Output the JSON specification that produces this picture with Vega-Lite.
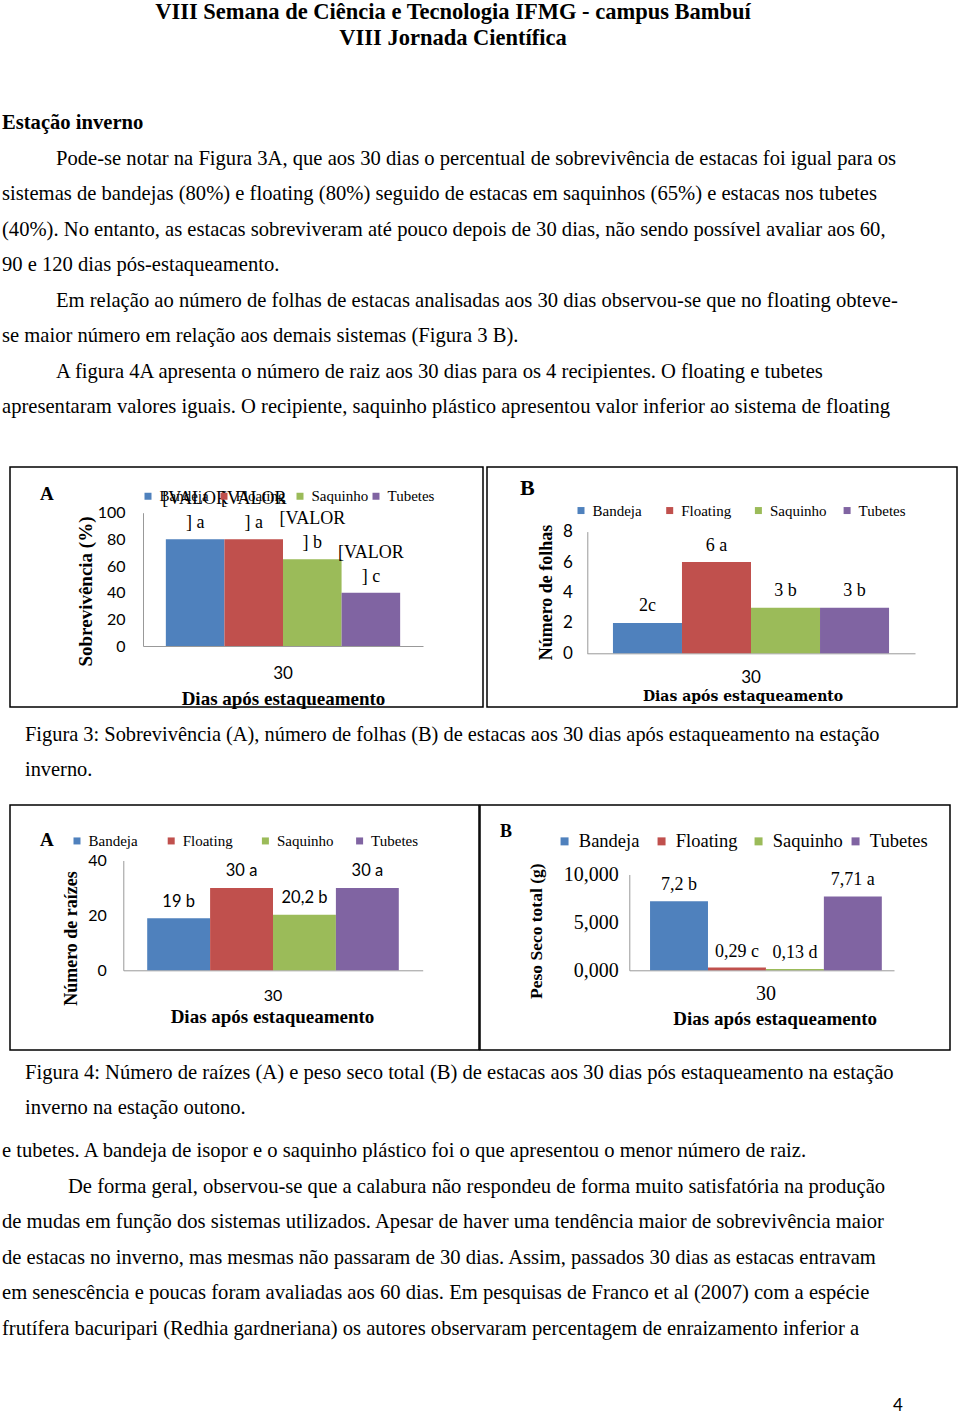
{
  "$schema": "https://vega.github.io/schema/vega-lite/v6.json",
  "padding": 0,
  "background": "white",
  "spacing": 0,
  "bounds": "full",
  "config": {
    "view": {"stroke": null},
    "axis": {"labelFlush": false, "labelOverlap": false, "labelBound": false, "grid": false, "ticks": false, "tickSize": 0, "domainColor": "#999999", "domainWidth": 1, "labelColor": "#000", "titleColor": "#000", "labelAngle": 0},
    "legend": {"padding": 0, "symbolStrokeWidth": 0, "labelColor": "#000", "symbolType": "square", "title": null, "orient": "none", "direction": "horizontal", "columns": 4, "gridAlign": "all", "labelLimit": 0},
    "title": {"color": "#000"}
  },
  "vconcat": [
    {
      "width": 906, "height": 60,
      "data": {"values": [
        {"linha": 0, "tipo": "centro", "texto": "VIII Semana de Ciência e Tecnologia IFMG - campus Bambuí"},
        {"linha": 1, "tipo": "centro", "texto": "VIII Jornada Científica"}
      ]},
      "mark": {"type": "text", "font": "Liberation Serif", "fontSize": 22.5, "fontWeight": "bold", "align": "center", "baseline": "middle", "color": "#000"},
      "encoding": {
        "x": {"field": "tipo", "type": "nominal", "scale": {"type": "point", "domain": ["centro"], "range": [453, 453]}, "axis": null},
        "y": {"field": "linha", "type": "ordinal", "scale": {"type": "point", "domain": [0, 1], "range": [12, 38], "padding": 0}, "axis": null},
        "text": {"field": "texto"}
      }
    },
    {
      "width": 906, "height": 406,
      "data": {"values": [
        {"linha": 0, "tipo": "normal", "peso": "negrito", "texto": "Estação inverno"},
        {"linha": 1, "tipo": "recuo", "peso": "normal", "texto": "Pode-se notar na Figura 3A, que aos 30 dias o percentual de sobrevivência de estacas foi igual para os"},
        {"linha": 2, "tipo": "normal", "peso": "normal", "texto": "sistemas de bandejas (80%) e floating (80%) seguido de estacas em saquinhos (65%) e estacas nos tubetes"},
        {"linha": 3, "tipo": "normal", "peso": "normal", "texto": "(40%). No entanto, as estacas sobreviveram até pouco depois de 30 dias, não sendo possível avaliar aos 60,"},
        {"linha": 4, "tipo": "normal", "peso": "normal", "texto": "90 e 120 dias pós-estaqueamento."},
        {"linha": 5, "tipo": "recuo", "peso": "normal", "texto": "Em relação ao número de folhas de estacas analisadas aos 30 dias observou-se que no floating  obteve-"},
        {"linha": 6, "tipo": "normal", "peso": "normal", "texto": "se maior número em relação aos demais sistemas (Figura 3 B)."},
        {"linha": 7, "tipo": "recuo", "peso": "normal", "texto": "A figura 4A apresenta o número de raiz aos 30 dias para os 4 recipientes. O floating e tubetes"},
        {"linha": 8, "tipo": "normal", "peso": "normal", "texto": "apresentaram valores iguais. O recipiente, saquinho plástico apresentou valor inferior ao sistema de floating"}
      ]},
      "encoding": {
        "x": {"field": "tipo", "type": "nominal", "scale": {"type": "point", "domain": ["normal", "recuo"], "range": [2, 56], "padding": 0}, "axis": null},
        "y": {"field": "linha", "type": "ordinal", "scale": {"type": "point", "domain": [0, 1, 2, 3, 4, 5, 6, 7, 8], "range": [63, 347], "padding": 0}, "axis": null},
        "text": {"field": "texto"}
      },
      "layer": [
        {"transform": [{"filter": "datum.peso == 'negrito'"}], "mark": {"type": "text", "font": "Liberation Serif", "fontSize": 20.6, "fontWeight": "bold", "align": "left", "baseline": "middle", "color": "#000"}},
        {"transform": [{"filter": "datum.peso != 'negrito'"}], "mark": {"type": "text", "font": "Liberation Serif", "fontSize": 20.6, "align": "left", "baseline": "middle", "color": "#000"}}
      ]
    },
    {
      "hconcat": [
        {"width": 6, "height": 10, "data": {"values": []}, "mark": "point"},
        {
          "width": 473, "height": 240,
          "view": {"stroke": "#000", "strokeWidth": 1.5},
          "title": {"text": "A", "anchor": "start", "frame": "group", "orient": "top", "font": "Liberation Serif", "fontSize": 19, "fontWeight": "bold", "baseline": "alphabetic", "offset": -52.3, "dx": 30},
          "data": {"values": [
            {"dia": "30", "serie": "Bandeja", "valor": 80, "rotulo": "[VALOR\n] a"},
            {"dia": "30", "serie": "Floating", "valor": 80, "rotulo": "[VALOR\n] a"},
            {"dia": "30", "serie": "Saquinho", "valor": 65, "rotulo": "[VALOR\n] b"},
            {"dia": "30", "serie": "Tubetes", "valor": 40, "rotulo": "[VALOR\n] c"}
          ]},
          "encoding": {
            "x": {"field": "dia", "type": "nominal", "scale": {"range": [133, 413], "paddingOuter": 0.0975, "paddingInner": 0},
              "axis": {"orient": "bottom", "offset": -61, "labelFont": "Lato", "labelFontSize": 17, "labelBaseline": "middle", "labelPadding": 27,
                "title": "Dias após estaqueamento", "titleFont": "Liberation Serif", "titleFontSize": 19, "titleFontWeight": "bold", "titleX": 273, "titleY": 52, "titleBaseline": "middle", "titleAlign": "center"}},
            "xOffset": {"field": "serie", "type": "nominal", "scale": {"domain": ["Bandeja", "Floating", "Saquinho", "Tubetes"], "paddingInner": 0, "paddingOuter": 0}},
            "y": {"field": "valor", "type": "quantitative", "stack": null, "scale": {"domain": [0, 100], "range": [179, 45.7], "nice": false, "zero": false},
              "axis": {"orient": "left", "offset": -133, "values": [0, 20, 40, 60, 80, 100], "labelFont": "Lato", "labelFontSize": 16, "labelPadding": 18,
                "title": "Sobrevivência (%)", "titleFont": "Liberation Serif", "titleFontSize": 19, "titleFontWeight": "bold", "titleAngle": 270, "titleX": -58, "titleY": 124, "titleAlign": "center", "titleBaseline": "middle"}}
          },
          "layer": [
            {"mark": {"type": "bar"},
             "encoding": {"color": {"field": "serie", "type": "nominal",
               "scale": {"domain": ["Bandeja", "Floating", "Saquinho", "Tubetes"], "range": ["#4F81BD", "#C0504D", "#9BBB59", "#8064A2"]},
               "legend": {"legendX": 130.5, "legendY": 21.5, "symbolSize": 49, "labelFont": "Liberation Serif", "labelFontSize": 15, "labelOffset": 4, "columnPadding": -4.3}}}},
            {"mark": {"type": "text", "font": "Liberation Serif", "fontSize": 18, "baseline": "bottom", "align": "center", "dy": -31, "lineBreak": "\n", "lineHeight": 24, "color": "#000"},
             "encoding": {"text": {"field": "rotulo"}}}
          ]
        },
        {
          "width": 470, "height": 240,
          "view": {"stroke": "#000", "strokeWidth": 1.5},
          "title": {"text": "B", "anchor": "start", "frame": "group", "orient": "top", "font": "Liberation Serif", "fontSize": 22, "fontWeight": "bold", "baseline": "alphabetic", "offset": -50, "dx": 33},
          "data": {"values": [
            {"dia": "30", "serie": "Bandeja", "valor": 2, "rotulo": "2c"},
            {"dia": "30", "serie": "Floating", "valor": 6, "rotulo": "6 a"},
            {"dia": "30", "serie": "Saquinho", "valor": 3, "rotulo": "3 b"},
            {"dia": "30", "serie": "Tubetes", "valor": 3, "rotulo": "3 b"}
          ]},
          "encoding": {
            "x": {"field": "dia", "type": "nominal", "scale": {"range": [100, 428], "paddingOuter": 0.094, "paddingInner": 0},
              "axis": {"orient": "bottom", "offset": -53.7, "labelFont": "Lato", "labelFontSize": 17, "labelBaseline": "middle", "labelPadding": 24.4,
                "title": "Dias após estaqueamento", "titleFont": "DejaVu Serif", "titleFontSize": 14, "titleFontWeight": "bold", "titleX": 255.5, "titleY": 42.7, "titleBaseline": "middle", "titleAlign": "center"}},
            "xOffset": {"field": "serie", "type": "nominal", "scale": {"domain": ["Bandeja", "Floating", "Saquinho", "Tubetes"], "paddingInner": 0, "paddingOuter": 0}},
            "y": {"field": "valor", "type": "quantitative", "stack": null, "scale": {"domain": [0, 8], "range": [186.3, 64.6], "nice": false, "zero": false},
              "axis": {"orient": "left", "offset": -100.3, "values": [0, 2, 4, 6, 8], "labelFont": "Lato", "labelFontSize": 17, "labelPadding": 15,
                "title": "Número de folhas", "titleFont": "Liberation Serif", "titleFontSize": 18, "titleFontWeight": "bold", "titleAngle": 270, "titleX": -40.6, "titleY": 125, "titleAlign": "center", "titleBaseline": "middle"}}
          },
          "layer": [
            {"mark": {"type": "bar"},
             "encoding": {"color": {"field": "serie", "type": "nominal",
               "scale": {"domain": ["Bandeja", "Floating", "Saquinho", "Tubetes"], "range": ["#4F81BD", "#C0504D", "#9BBB59", "#8064A2"]},
               "legend": {"legendX": 86.5, "legendY": 35.8, "symbolSize": 49, "labelFont": "Liberation Serif", "labelFontSize": 15, "labelOffset": 4, "columnPadding": 12.7}}}},
            {"mark": {"type": "text", "font": "Liberation Serif", "fontSize": 18, "baseline": "bottom", "align": "center", "dy": -7.5, "color": "#000"},
             "encoding": {"text": {"field": "rotulo"}}}
          ]
        }
      ],
      "spacing": 4,
      "bounds": "flush",
      "resolve": {"scale": {"color": "independent", "xOffset": "independent"}}
    },
    {
      "width": 906, "height": 95,
      "data": {"values": [
        {"linha": 0, "tipo": "legenda", "texto": "Figura 3: Sobrevivência (A), número de folhas (B) de estacas aos 30 dias após estaqueamento na estação"},
        {"linha": 1, "tipo": "legenda", "texto": "inverno."}
      ]},
      "mark": {"type": "text", "font": "Liberation Serif", "fontSize": 20.4, "align": "left", "baseline": "middle", "color": "#000"},
      "encoding": {
        "x": {"field": "tipo", "type": "nominal", "scale": {"type": "point", "domain": ["legenda"], "range": [25, 25]}, "axis": null},
        "y": {"field": "linha", "type": "ordinal", "scale": {"type": "point", "domain": [0, 1], "range": [26, 61], "padding": 0}, "axis": null},
        "text": {"field": "texto"}
      }
    },
    {
      "hconcat": [
        {"width": 9, "height": 10, "data": {"values": []}, "mark": "point"},
        {
          "width": 469, "height": 245,
          "view": {"stroke": "#000", "strokeWidth": 1.5},
          "title": {"text": "A", "anchor": "start", "frame": "group", "orient": "top", "font": "Liberation Serif", "fontSize": 19, "fontWeight": "bold", "baseline": "alphabetic", "offset": -60.3, "dx": 30},
          "data": {"values": [
            {"dia": "30", "serie": "Bandeja", "valor": 19, "rotulo": "19 b"},
            {"dia": "30", "serie": "Floating", "valor": 30, "rotulo": "30 a"},
            {"dia": "30", "serie": "Saquinho", "valor": 20.2, "rotulo": "20,2 b"},
            {"dia": "30", "serie": "Tubetes", "valor": 30, "rotulo": "30  a"}
          ]},
          "encoding": {
            "x": {"field": "dia", "type": "nominal", "scale": {"range": [113.3, 412.7], "paddingOuter": 0.095, "paddingInner": 0},
              "axis": {"orient": "bottom", "offset": -79.7, "labelFont": "Lato", "labelFontSize": 16, "labelBaseline": "middle", "labelPadding": 25,
                "title": "Dias após estaqueamento", "titleFont": "Liberation Serif", "titleFontSize": 19, "titleFontWeight": "bold", "titleX": 262, "titleY": 46, "titleBaseline": "middle", "titleAlign": "center"}},
            "xOffset": {"field": "serie", "type": "nominal", "scale": {"domain": ["Bandeja", "Floating", "Saquinho", "Tubetes"], "paddingInner": 0, "paddingOuter": 0}},
            "y": {"field": "valor", "type": "quantitative", "stack": null, "scale": {"domain": [0, 40], "range": [165.3, 55.5], "nice": false, "zero": false},
              "axis": {"orient": "left", "offset": -113.3, "values": [0, 20, 40], "labelFont": "Lato", "labelFontSize": 16, "labelPadding": 17,
                "title": "Número de raízes", "titleFont": "Liberation Serif", "titleFontSize": 18, "titleFontWeight": "bold", "titleAngle": 270, "titleX": -51.6, "titleY": 133, "titleAlign": "center", "titleBaseline": "middle"}}
          },
          "layer": [
            {"mark": {"type": "bar"},
             "encoding": {"color": {"field": "serie", "type": "nominal",
               "scale": {"domain": ["Bandeja", "Floating", "Saquinho", "Tubetes"], "range": ["#4F81BD", "#C0504D", "#9BBB59", "#8064A2"]},
               "legend": {"legendX": 59.5, "legendY": 28.2, "symbolSize": 49, "labelFont": "Liberation Serif", "labelFontSize": 15, "labelOffset": 4, "columnPadding": 18.2}}}},
            {"mark": {"type": "text", "font": "Lato", "fontSize": 16.5, "baseline": "bottom", "align": "center", "dy": -8.5, "color": "#000"},
             "encoding": {"text": {"field": "rotulo"}}}
          ]
        },
        {
          "width": 470, "height": 245,
          "view": {"stroke": "#000", "strokeWidth": 1.5},
          "title": {"text": "B", "anchor": "start", "frame": "group", "orient": "top", "font": "Liberation Serif", "fontSize": 18, "fontWeight": "bold", "baseline": "alphabetic", "offset": -50.3, "dx": 20},
          "data": {"values": [
            {"dia": "30", "serie": "Bandeja", "valor": 7.2, "rotulo": "7,2 b"},
            {"dia": "30", "serie": "Floating", "valor": 0.29, "rotulo": "0,29 c"},
            {"dia": "30", "serie": "Saquinho", "valor": 0.13, "rotulo": "0,13 d"},
            {"dia": "30", "serie": "Tubetes", "valor": 7.71, "rotulo": "7,71 a"}
          ]},
          "encoding": {
            "x": {"field": "dia", "type": "nominal", "scale": {"range": [149.3, 414], "paddingOuter": 0.071, "paddingInner": 0, "align": 0.63},
              "axis": {"orient": "bottom", "offset": -79.7, "labelFont": "Liberation Serif", "labelFontSize": 20, "labelBaseline": "middle", "labelPadding": 22.7,
                "title": "Dias após estaqueamento", "titleFont": "Liberation Serif", "titleFontSize": 19, "titleFontWeight": "bold", "titleX": 294.7, "titleY": 47.7, "titleBaseline": "middle", "titleAlign": "center"}},
            "xOffset": {"field": "serie", "type": "nominal", "scale": {"domain": ["Bandeja", "Floating", "Saquinho", "Tubetes"], "paddingInner": 0, "paddingOuter": 0}},
            "y": {"field": "valor", "type": "quantitative", "stack": null, "scale": {"domain": [0, 10], "range": [165.3, 69.5], "nice": false, "zero": false},
              "axis": {"orient": "left", "offset": -149.3, "values": [0, 5, 10], "labelExpr": "replace(format(datum.value, '.3f'), '.', ',')", "labelFont": "Liberation Serif", "labelFontSize": 20, "labelPadding": 11,
                "title": "Peso Seco total (g)", "titleFont": "Liberation Serif", "titleFontSize": 17.5, "titleFontWeight": "bold", "titleAngle": 270, "titleX": -92.6, "titleY": 125.7, "titleAlign": "center", "titleBaseline": "middle"}}
          },
          "layer": [
            {"mark": {"type": "bar"},
             "encoding": {"color": {"field": "serie", "type": "nominal",
               "scale": {"domain": ["Bandeja", "Floating", "Saquinho", "Tubetes"], "range": ["#4F81BD", "#C0504D", "#9BBB59", "#8064A2"]},
               "legend": {"legendX": 75.3, "legendY": 27, "symbolSize": 64, "labelFont": "Liberation Serif", "labelFontSize": 18.5, "labelOffset": 5, "columnPadding": 3}}}},
            {"mark": {"type": "text", "font": "Liberation Serif", "fontSize": 18, "baseline": "bottom", "align": "center", "dy": -7, "color": "#000"},
             "encoding": {"text": {"field": "rotulo"}}}
          ]
        }
      ],
      "spacing": 1,
      "bounds": "flush",
      "resolve": {"scale": {"color": "independent", "xOffset": "independent"}}
    },
    {
      "width": 906, "height": 80,
      "data": {"values": [
        {"linha": 0, "tipo": "legenda", "texto": "Figura 4: Número de raízes (A) e peso seco total (B) de estacas aos 30 dias pós estaqueamento na estação"},
        {"linha": 1, "tipo": "legenda", "texto": "inverno na estação outono."}
      ]},
      "mark": {"type": "text", "font": "Liberation Serif", "fontSize": 20.6, "align": "left", "baseline": "middle", "color": "#000"},
      "encoding": {
        "x": {"field": "tipo", "type": "nominal", "scale": {"type": "point", "domain": ["legenda"], "range": [25, 25]}, "axis": null},
        "y": {"field": "linha", "type": "ordinal", "scale": {"type": "point", "domain": [0, 1], "range": [22, 57], "padding": 0}, "axis": null},
        "text": {"field": "texto"}
      }
    },
    {
      "width": 906, "height": 250,
      "data": {"values": [
        {"linha": 0, "tipo": "normal", "texto": "e tubetes. A bandeja de isopor e o saquinho plástico foi o que apresentou o menor número de raiz."},
        {"linha": 1, "tipo": "recuo", "texto": "De forma geral, observou-se que a calabura não respondeu de forma muito satisfatória na produção"},
        {"linha": 2, "tipo": "normal", "texto": "de mudas em função dos sistemas utilizados. Apesar de haver uma tendência maior de sobrevivência maior"},
        {"linha": 3, "tipo": "normal", "texto": "de estacas no inverno, mas mesmas não passaram de 30 dias. Assim, passados 30 dias as estacas entravam"},
        {"linha": 4, "tipo": "normal", "texto": "em senescência e poucas foram avaliadas aos 60 dias. Em pesquisas de Franco et al (2007) com a espécie"},
        {"linha": 5, "tipo": "normal", "texto": "frutífera bacuripari (Redhia gardneriana) os autores observaram percentagem de enraizamento inferior a"}
      ]},
      "mark": {"type": "text", "font": "Liberation Serif", "fontSize": 20.6, "align": "left", "baseline": "middle", "color": "#000"},
      "encoding": {
        "x": {"field": "tipo", "type": "nominal", "scale": {"type": "point", "domain": ["normal", "recuo"], "range": [2, 68], "padding": 0}, "axis": null},
        "y": {"field": "linha", "type": "ordinal", "scale": {"type": "point", "domain": [0, 1, 2, 3, 4, 5], "range": [20, 198], "padding": 0}, "axis": null},
        "text": {"field": "texto"}
      }
    },
    {
      "width": 906, "height": 33,
      "data": {"values": [{"linha": 0, "tipo": "pagina", "texto": "4"}]},
      "mark": {"type": "text", "font": "Lato", "fontSize": 17, "align": "center", "baseline": "middle", "color": "#000"},
      "encoding": {
        "x": {"field": "tipo", "type": "nominal", "scale": {"type": "point", "domain": ["pagina"], "range": [898, 898]}, "axis": null},
        "y": {"field": "linha", "type": "ordinal", "scale": {"type": "point", "domain": [0], "range": [25, 25]}, "axis": null},
        "text": {"field": "texto"}
      }
    }
  ]
}
